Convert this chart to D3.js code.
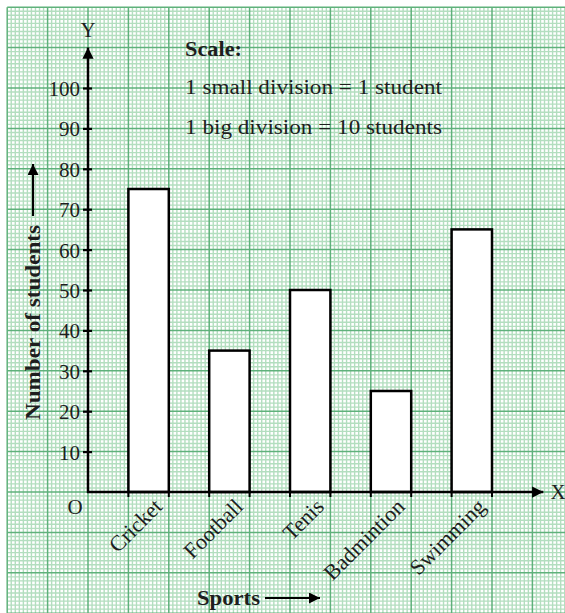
<!DOCTYPE html>
<html>
<head>
<meta charset="utf-8">
<script src="https://cdn.jsdelivr.net/npm/d3@7"></script>
<style>
html,body{margin:0;padding:0;background:#fff;}
svg{display:block;}
text{font-family:"Liberation Serif","Times New Roman",serif;fill:#1e1e1e;}
</style>
</head>
<body>
<svg id="chart" width="565" height="613"></svg>
<script>
const categories = ["Cricket", "Football", "Tenis", "Badmintion", "Swimming"];
const students = [75, 35, 50, 25, 65];
const yTicks = [10, 20, 30, 40, 50, 60, 70, 80, 90, 100];
const scaleLines = ["1 small division = 1 student", "1 big division = 10 students"];

const W = 565, H = 613;
const svg = d3.select("#chart");

// Scales: 1 student = one small division
const y = d3.scaleLinear().domain([0, 100]).range([492, 88]);
const unit = (y(0) - y(100)) / 100;
const gx = d3.scaleLinear().domain([0, 100]).range([88, 88 + 100 * unit]);
const x = d3.scaleBand().domain(categories)
  .range([gx(10), gx(100)]).paddingInner(0.5).paddingOuter(0);

// graph paper
const gridLeft = gx(-20), gridTop = y(120);
const xMinU = -20, xMaxU = Math.ceil(gx.invert(W));
const yMinU = Math.floor(y.invert(H)), yMaxU = 120;
const paper = svg.append("g");
const minorX = d3.range(xMinU, xMaxU + 1).filter(v => v % 10 !== 0);
const minorY = d3.range(yMinU, yMaxU + 1).filter(v => v % 10 !== 0);
paper.selectAll("line.mx").data(minorX).join("line")
  .attr("x1", d => gx(d)).attr("x2", d => gx(d)).attr("y1", gridTop).attr("y2", H)
  .attr("stroke", "#b3debf").attr("stroke-width", 1.4);
paper.selectAll("line.my").data(minorY).join("line")
  .attr("y1", d => y(d)).attr("y2", d => y(d)).attr("x1", gridLeft).attr("x2", W)
  .attr("stroke", "#b3debf").attr("stroke-width", 1.4);
const majorX = d3.range(xMinU, xMaxU + 1).filter(v => v % 10 === 0);
const majorY = d3.range(yMinU, yMaxU + 1).filter(v => v % 10 === 0);
paper.selectAll("line.Mx").data(majorX).join("line")
  .attr("x1", d => gx(d)).attr("x2", d => gx(d)).attr("y1", gridTop).attr("y2", H)
  .attr("stroke", "#5fb17b").attr("stroke-width", 1.5);
paper.selectAll("line.My").data(majorY).join("line")
  .attr("y1", d => y(d)).attr("y2", d => y(d)).attr("x1", gridLeft).attr("x2", W)
  .attr("stroke", "#5fb17b").attr("stroke-width", 1.5);

// arrow markers
const defs = svg.append("defs");
defs.append("marker").attr("id", "arr").attr("viewBox", "0 0 10 10")
  .attr("refX", 10).attr("refY", 5).attr("markerWidth", 6.5).attr("markerHeight", 4.5)
  .attr("markerUnits", "strokeWidth").attr("orient", "auto")
  .append("path").attr("d", "M0,0 L10,5 L0,10 z").attr("fill", "#000");
defs.append("marker").attr("id", "arr2").attr("viewBox", "0 0 10 10")
  .attr("refX", 10).attr("refY", 5).attr("markerWidth", 8.5).attr("markerHeight", 5)
  .attr("markerUnits", "strokeWidth").attr("orient", "auto")
  .append("path").attr("d", "M0,0 L10,5 L0,10 z").attr("fill", "#000");

// bars
svg.selectAll("rect.bar").data(categories).join("rect")
  .attr("x", d => x(d)).attr("width", x.bandwidth())
  .attr("y", (d, i) => y(students[i])).attr("height", (d, i) => y(0) - y(students[i]))
  .attr("fill", "#fff").attr("stroke", "#000").attr("stroke-width", 2.5);

// y-axis with ticks
const yAxis = d3.axisLeft(y).tickValues(yTicks).tickSize(0).tickPadding(0);
const ya = svg.append("g").attr("transform", `translate(${gx(0)},0)`).call(yAxis);
ya.select(".domain").remove();
ya.selectAll(".tick line").attr("x1", -5).attr("x2", 4).attr("stroke", "#000").attr("stroke-width", 2.2);
ya.selectAll(".tick text").attr("x", -8).attr("dy", "0.36em")
  .style("font-size", "21px").style("font-family", "Liberation Serif, serif").attr("fill", "#1e1e1e");

svg.append("line").attr("x1", gx(0)).attr("x2", gx(0)).attr("y1", y(0) + 1).attr("y2", y(110))
  .attr("stroke", "#000").attr("stroke-width", 2.5).attr("marker-end", "url(#arr)");

// x-axis
const xAxis = d3.axisBottom(x).tickSize(0).tickFormat("");
const xa = svg.append("g").attr("transform", `translate(0,${y(0)})`).call(xAxis);
xa.select(".domain").remove();
svg.append("line").attr("x1", gx(0) - 1).attr("x2", gx(112.7)).attr("y1", y(0)).attr("y2", y(0))
  .attr("stroke", "#000").attr("stroke-width", 2.5).attr("marker-end", "url(#arr)");
// small edge ticks below axis
const edges = categories.flatMap(c => [x(c), x(c) + x.bandwidth()]);
svg.selectAll("line.et").data(edges).join("line")
  .attr("x1", d => d).attr("x2", d => d).attr("y1", y(0)).attr("y2", y(0) + 5)
  .attr("stroke", "#000").attr("stroke-width", 2);

// category labels
svg.selectAll("text.cat").data(categories).join("text")
  .attr("transform", d => `translate(${x(d) + x.bandwidth() / 2 + 15},${y(0) + 16}) rotate(-45)`)
  .attr("text-anchor", "end").style("font-size", "22px").text(d => d);

// axis letters
svg.append("text").attr("x", gx(0)).attr("y", 37).attr("text-anchor", "middle").style("font-size", "21px").text("Y");
svg.append("text").attr("x", gx(113) + 6).attr("y", y(0) + 7).attr("text-anchor", "start").style("font-size", "21px").text("X");
svg.append("text").attr("x", gx(0) - 13).attr("y", y(0) + 22).attr("text-anchor", "middle").style("font-size", "21px").text("O");

// axis titles
svg.append("text").attr("transform", "translate(40,420) rotate(-90)")
  .attr("text-anchor", "start").style("font-size", "21px").style("font-weight", "bold")
  .attr("textLength", 195).attr("lengthAdjust", "spacingAndGlyphs").text("Number of students");
svg.append("line").attr("x1", 33).attr("x2", 33).attr("y1", 216).attr("y2", 164)
  .attr("stroke", "#000").attr("stroke-width", 2.2).attr("marker-end", "url(#arr2)");

svg.append("text").attr("x", 197).attr("y", 605)
  .style("font-size", "21px").style("font-weight", "bold")
  .attr("textLength", 63).attr("lengthAdjust", "spacingAndGlyphs").text("Sports");
svg.append("line").attr("x1", 265).attr("x2", 320).attr("y1", 598).attr("y2", 598)
  .attr("stroke", "#000").attr("stroke-width", 2.2).attr("marker-end", "url(#arr2)");

// scale box text
svg.append("text").attr("x", 185).attr("y", 56).style("font-size", "20px").style("font-weight", "bold")
  .attr("textLength", 57).attr("lengthAdjust", "spacingAndGlyphs").text("Scale:");
svg.selectAll("text.sc").data(scaleLines).join("text")
  .attr("x", 185).attr("y", (d, i) => 94 + i * 40).style("font-size", "20px")
  .attr("textLength", 257).attr("lengthAdjust", "spacingAndGlyphs").text(d => d);
</script>
</body>
</html>
